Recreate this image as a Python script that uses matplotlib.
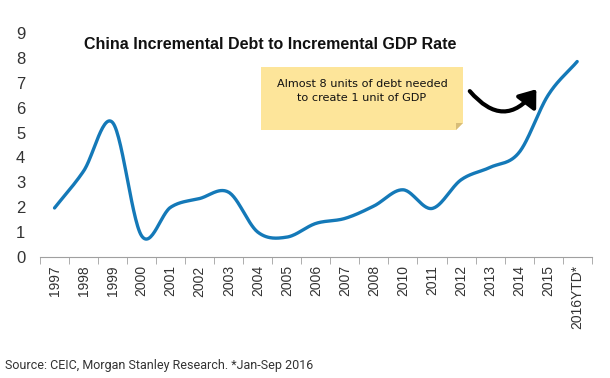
import numpy as np
import matplotlib
matplotlib.use('Agg')
import matplotlib.pyplot as plt
from matplotlib.patches import Rectangle, Polygon, FancyArrowPatch

years = ['1997', '1998', '1999', '2000', '2001', '2002', '2003', '2004', '2005',
         '2006', '2007', '2008', '2010', '2011', '2012', '2013', '2014', '2015',
         '2016YTD*']
ratio = [1.97, 3.45, 5.4, 0.85, 2.0, 2.35, 2.6, 1.0, 0.8,
         1.35, 1.55, 2.05, 2.7, 1.95, 3.1, 3.6, 4.2, 6.5, 7.85]

title = 'China Incremental Debt to Incremental GDP Rate'
note = 'Almost 8 units of debt needed\nto create 1 unit of GDP'
source = 'Source: CEIC, Morgan Stanley Research. *Jan-Sep 2016'

plt.rcParams['font.family'] = ['Liberation Sans', 'DejaVu Sans']


def smooth(x, y, n=30):
    # catmull-rom style smoothing, like excel's smoothed line
    x = np.asarray(x, float)
    y = np.asarray(y, float)
    px = np.concatenate([[2 * x[0] - x[1]], x, [2 * x[-1] - x[-2]]])
    py = np.concatenate([[2 * y[0] - y[1]], y, [2 * y[-1] - y[-2]]])
    xs, ys = [], []
    t = np.linspace(0, 1, n)
    for i in range(1, len(px) - 2):
        for p, out in ((px, xs), (py, ys)):
            p0, p1, p2, p3 = p[i - 1], p[i], p[i + 1], p[i + 2]
            c1 = p1 + (p2 - p0) / 6
            c2 = p2 - (p3 - p1) / 6
            out.extend((1 - t) ** 3 * p1 + 3 * (1 - t) ** 2 * t * c1
                       + 3 * (1 - t) * t ** 2 * c2 + t ** 3 * p2)
    return np.array(xs), np.array(ys)


fig = plt.figure(figsize=(6.1, 3.78), dpi=100)
ax = fig.add_axes([0.0656, 0.32, 0.9044, 0.593])

x = np.arange(len(years))
sx, sy = smooth(x, ratio)
ax.plot(sx, sy, color='#1479b8', linewidth=2.4, solid_capstyle='round')

ax.set_xlim(-0.5, len(years) - 0.5)
ax.set_ylim(0, 9)
ax.set_yticks(range(10))
ax.set_xticks(x)
ax.set_xticklabels(years, rotation=90, fontsize=10, color='#333333')
ax.set_xticks(np.arange(-0.5, len(years)), minor=True)
ax.tick_params(axis='x', which='major', length=0, pad=6)
ax.tick_params(axis='x', which='minor', length=5, color='#a0a0a0', direction='out')
ax.tick_params(axis='y', length=0, labelsize=12, pad=14, colors='#333333')
for t in ax.get_yticklabels():
    t.set_horizontalalignment('center')
for s in ['top', 'right', 'left']:
    ax.spines[s].set_visible(False)
ax.spines['bottom'].set_color('#a0a0a0')

fig.text(0.443, 0.883, title, ha='center', va='center', fontsize=11.5,
         fontweight='bold', color='#111111')

# sticky note
W, H = 610.0, 378.0
fx = lambda px: px / W
fy = lambda py: 1 - py / H
fig.patches.append(Rectangle((fx(261), fy(130)), fx(463) - fx(261), fy(67) - fy(130),
                             transform=fig.transFigure, facecolor='#fde59a',
                             edgecolor='none', zorder=3))
fig.patches.append(Polygon([(fx(456), fy(130)), (fx(463), fy(123)), (fx(463), fy(130))],
                           closed=True, transform=fig.transFigure, facecolor='white',
                           edgecolor='none', zorder=4))
fig.patches.append(Polygon([(fx(456), fy(130)), (fx(463), fy(123)), (fx(456), fy(123))],
                           closed=True, transform=fig.transFigure, facecolor='#d8bd78',
                           edgecolor='none', zorder=4))
fig.text(fx(362), fy(91), note, ha='center', va='center', fontsize=8.1,
         color='#111111', linespacing=1.55, zorder=5, family='DejaVu Sans')

arrow = FancyArrowPatch((fx(468), fy(89)), (fx(538), fy(87)),
                        transform=fig.transFigure,
                        connectionstyle='arc3,rad=0.65', arrowstyle='-|>,head_length=6,head_width=4.5',
                        color='black', linewidth=3.0, mutation_scale=1.6)
fig.patches.append(arrow)

fig.text(0.008, 0.032, source, ha='left', va='center', fontsize=9, color='#333333',
         family='Roboto')

fig.savefig('out.png', dpi=100)
